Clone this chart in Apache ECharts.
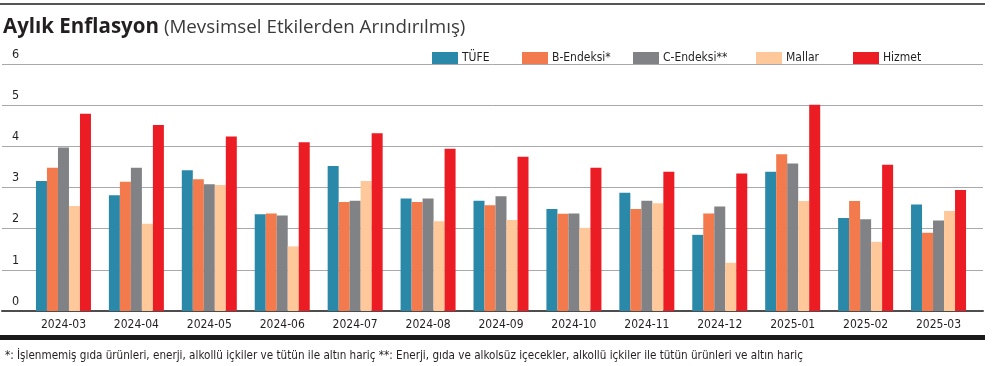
<!DOCTYPE html>
<html>
<head>
<meta charset="utf-8">
<script src="https://cdn.jsdelivr.net/npm/echarts@6/dist/echarts.min.js"></script>
<style>
html,body{margin:0;padding:0;background:#fff;}
#chart{width:1000px;height:366px;}
</style>
</head>
<body>
<div id="chart"></div>
<script>
const categories = ['2024-03','2024-04','2024-05','2024-06','2024-07','2024-08','2024-09','2024-10','2024-11','2024-12','2025-01','2025-02','2025-03'];
const seriesNames = ['TÜFE','B-Endeksi*','C-Endeksi**','Mallar','Hizmet'];
const tufe    = [3.16, 2.81, 3.42, 2.35, 3.52, 2.73, 2.68, 2.48, 2.87, 1.85, 3.38, 2.26, 2.59];
const bEndeks = [3.48, 3.14, 3.20, 2.37, 2.65, 2.65, 2.57, 2.36, 2.48, 2.37, 3.81, 2.67, 1.90];
const cEndeks = [3.97, 3.48, 3.08, 2.32, 2.68, 2.73, 2.79, 2.37, 2.68, 2.54, 3.58, 2.23, 2.20];
const mallar  = [2.55, 2.12, 3.06, 1.57, 3.16, 2.18, 2.21, 2.02, 2.62, 1.17, 2.67, 1.68, 2.43];
const hizmet  = [4.79, 4.52, 4.24, 4.10, 4.32, 3.94, 3.75, 3.48, 3.38, 3.34, 5.01, 3.55, 2.94];
const yTicks = [0, 1, 2, 3, 4, 5, 6];
const titleMain = 'Aylık Enflasyon';
const titleSub = '(Mevsimsel Etkilerden Arındırılmış)';
const footnote = '*: İşlenmemiş gıda ürünleri, enerji, alkollü içkiler ve tütün ile altın hariç **: Enerji, gıda ve alkolsüz içecekler, alkollü içkiler ile tütün ürünleri ve altın hariç';

const colors = ['#2a88a8', '#f27a4d', '#808285', '#fec89a', '#ec1c24'];
const values = [tufe, bEndeks, cEndeks, mallar, hizmet];
const COND = "'DejaVu Sans Condensed', Roboto, sans-serif";

const chart = echarts.init(document.getElementById('chart'), null, {renderer: 'canvas'});
const legendLefts = [427, 517, 628, 751, 848];

const option = {
  animation: false,
  title: [
    {
      left: -2, top: 12,
      text: '{a|' + titleMain + '} {b|' + titleSub + '}',
      textStyle: {
        rich: {
          a: {fontFamily: "'Open Sans', sans-serif", fontWeight: 'bold', fontSize: 20.5, color: '#231f20'},
          b: {fontFamily: "'Open Sans', sans-serif", fontWeight: 'normal', fontSize: 18.8, color: '#3a3a3a'}
        }
      }
    },
    {
      left: 0, top: 345,
      text: footnote,
      textStyle: {fontFamily: COND, fontWeight: 'normal', fontSize: 11.6, color: '#231f20'}
    }
  ],
  legend: seriesNames.map((n, i) => ({
    data: [n],
    left: legendLefts[i], top: 47,
    itemWidth: 26, itemHeight: 12, itemGap: 5,
    icon: 'rect',
    textStyle: {fontFamily: COND, fontSize: 12, color: '#231f20', padding: [0,0,0,-1]}
  })),
  grid: [
    {left: 2, right: 17, top: 64, bottom: 55, containLabel: false},
    {left: 27, right: 25, top: 64, bottom: 55, containLabel: false}
  ],
  xAxis: [
    {
      gridIndex: 0, type: 'value', min: 0, max: 1, show: true,
      axisLine: {show: true, onZero: false, lineStyle: {color: '#4d4d4d', width: 2}},
      axisTick: {show: false}, axisLabel: {show: false}, splitLine: {show: false}
    },
    {
      gridIndex: 1, type: 'category', data: categories,
      axisLine: {show: false}, axisTick: {show: false},
      axisLabel: {margin: 8, fontFamily: COND, fontSize: 12, color: '#231f20'}
    }
  ],
  yAxis: [
    {
      gridIndex: 0, type: 'value', min: yTicks[0], max: yTicks[yTicks.length-1], interval: 1,
      axisLine: {show: false}, axisTick: {show: false},
      axisLabel: {inside: true, margin: 10, verticalAlign: 'bottom', align: 'left', padding: [0,0,3,0],
                  fontFamily: COND, fontSize: 12.5, color: '#231f20'},
      splitLine: {show: true, lineStyle: {color: '#a7a9ac', width: 1}}
    },
    {
      gridIndex: 1, type: 'value', min: yTicks[0], max: yTicks[yTicks.length-1], interval: 1,
      show: false
    }
  ],
  graphic: [
    {type: 'rect', shape: {x: 0, y: 3, width: 985, height: 2}, style: {fill: '#555'}, silent: true},
    {type: 'rect', shape: {x: 0, y: 335, width: 985, height: 5}, style: {fill: '#1a1a1a'}, silent: true}
  ],
  series: seriesNames.map((n, i) => ({
    name: n, type: 'bar', xAxisIndex: 1, yAxisIndex: 1,
    data: values[i], barWidth: 11, barGap: '0%',
    itemStyle: {color: colors[i]}
  }))
};
chart.setOption(option);
</script>
</body>
</html>
